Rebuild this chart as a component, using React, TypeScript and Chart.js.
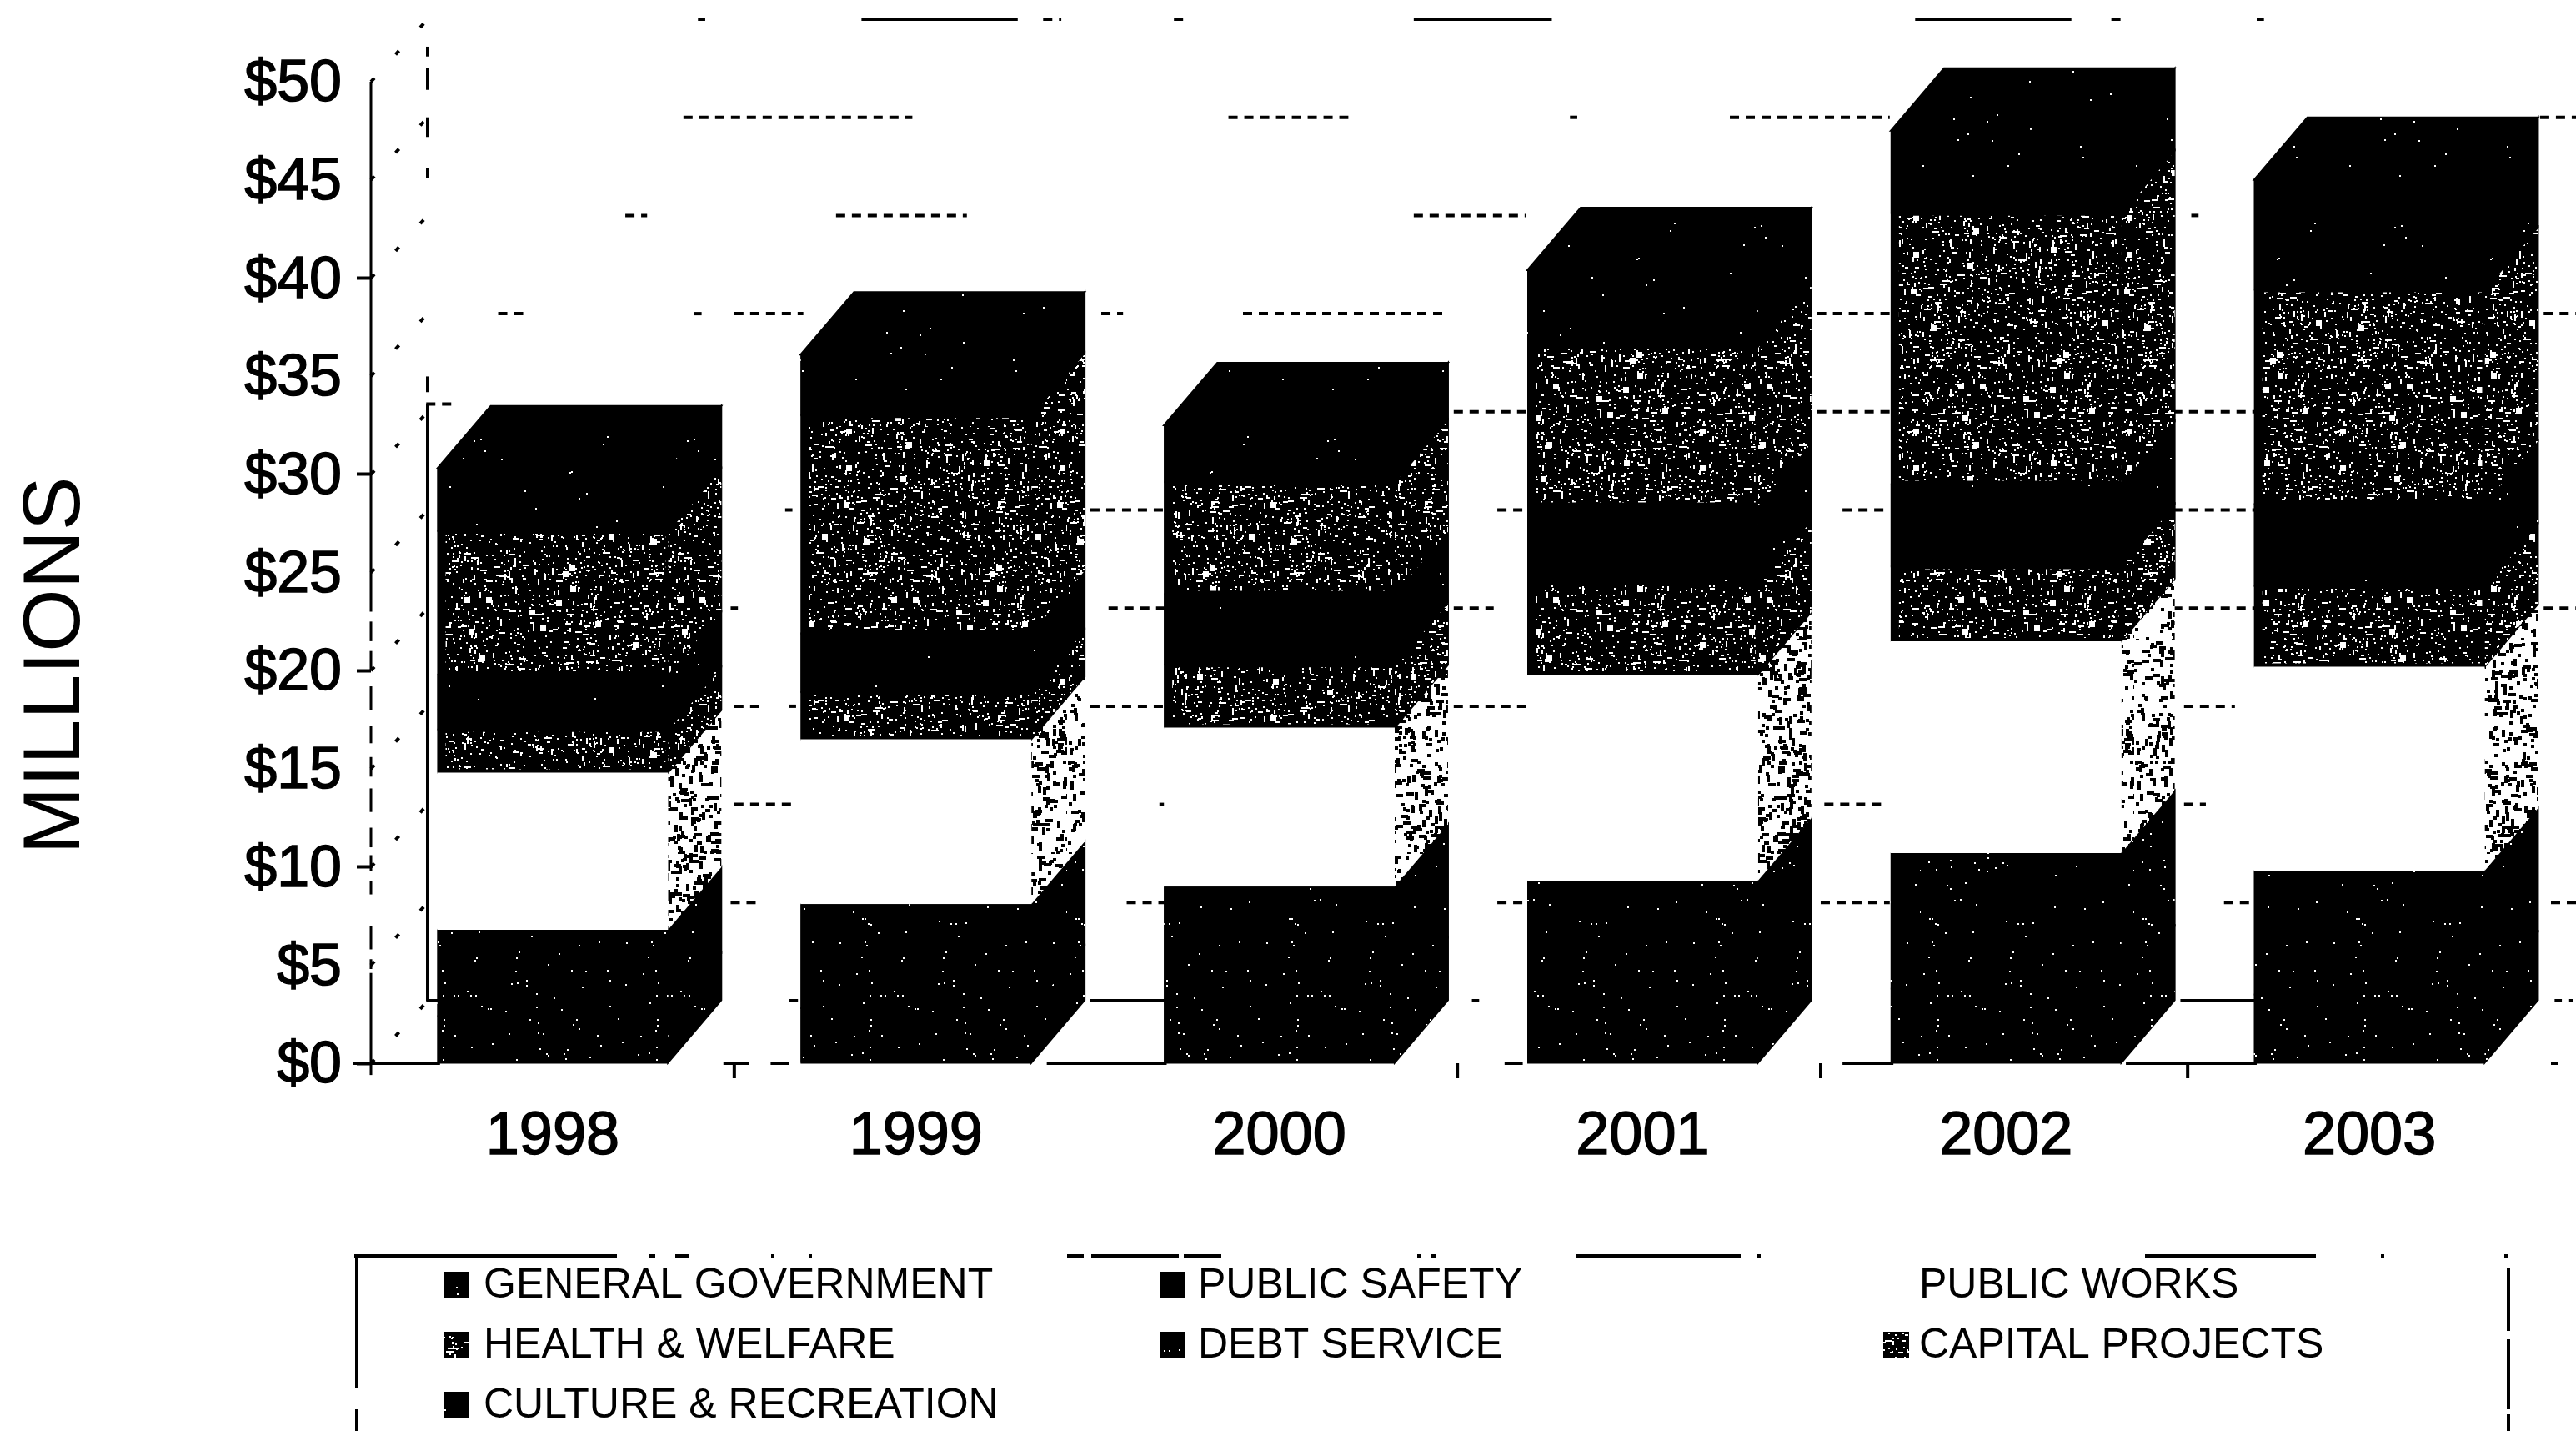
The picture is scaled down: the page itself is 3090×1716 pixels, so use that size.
import React, { useEffect, useRef } from "react";
import Chart from "chart.js/auto";

// ---- Expenditures by function, in millions of dollars ----
const years = ["1998", "1999", "2000", "2001", "2002", "2003"];
const generalGovernment = [2.4, 2.8, 3.2, 3.3, 3.8, 3.5];
const publicSafety = [4.4, 5.3, 5.8, 6.0, 6.9, 6.3];
const publicWorks = [8.0, 8.4, 8.1, 10.5, 10.8, 10.4];
const healthWelfare = [2.2, 2.4, 3.2, 4.7, 3.8, 4.1];
const debtService = [2.8, 3.0, 3.6, 3.9, 4.2, 4.2];
const capitalProjects = [7.3, 11.1, 5.7, 8.1, 13.8, 10.9];
const cultureRecreation = [3.2, 3.1, 2.9, 3.9, 4.2, 5.6];

const seriesNames = [
  "GENERAL GOVERNMENT",
  "PUBLIC SAFETY",
  "PUBLIC WORKS",
  "HEALTH & WELFARE",
  "DEBT SERVICE",
  "CAPITAL PROJECTS",
  "CULTURE & RECREATION",
];
const seriesValues = [
  generalGovernment,
  publicSafety,
  publicWorks,
  healthWelfare,
  debtService,
  capitalProjects,
  cultureRecreation,
];
// Fill used for the front face of each series
const seriesFront = ["sparse", "sparse", "white", "dark", "pure", "dark", "faint"];
// Fill used for the side face of each series
const seriesSide = ["sparse", "sparse", "light", "dark", "faint", "dark", "faint"];

const axisTicks = [0, 5, 10, 15, 20, 25, 30, 35, 40, 45, 50];
const tickMarksShown = [0, 10, 20, 30, 40];
const axisTitle = "MILLIONS";

// Surviving pieces of the back-wall rules: [dollar level, [[from, to] in category units]]
const wallDashes: [number, number[][]][] = [
  [0, [[0.65, 0.69], [2.53, 2.55], [5.51, 5.53], [5.55, 5.56]]],
  [5, [[0.49, 0.57], [1.58, 1.69], [2.6, 2.69], [3.49, 3.68], [4.6, 4.69], [5.5, 5.57]]],
  [10, [[0.5, 0.67], [1.67, 1.69], [3.5, 3.67], [4.49, 4.55]]],
  [15, [[0.5, 0.57], [0.65, 0.67], [1.48, 1.69], [2.48, 2.69], [4.49, 4.63]]],
  [20, [[0.49, 0.51], [1.53, 1.69], [2.48, 2.59], [4.46, 4.69], [5.48, 5.57]]],
  [25, [[0.64, 0.66], [1.48, 1.69], [2.6, 2.67], [3.55, 3.68], [4.46, 4.69]]],
  [30, [[2.48, 2.69], [3.48, 3.68], [4.46, 4.69]]],
  [30.4, [[-0.348, -0.27]]],
  [35, [[-0.15, -0.08], [0.39, 0.41], [0.5, 0.69], [1.51, 1.57], [1.9, 2.45], [3.48, 3.68], [5.48, 5.57]]],
  [40, [[0.2, 0.26], [0.78, 1.14], [2.37, 2.68], [4.51, 4.53]]],
  [45, [[0.36, 0.99], [1.86, 2.19], [2.8, 2.82], [3.24, 3.68], [5.47, 5.57]]],
  [50, [[0.4, 0.42], [1.35, 1.4], [1.71, 1.74], [4.29, 4.32], [4.69, 4.71]]],
];
const wallSolids: [number, number[][]][] = [
  [0, [[-0.348, -0.31], [1.48, 1.69], [4.48, 4.69]]],
  [50, [[0.85, 1.28], [2.37, 2.75], [3.75, 4.18]]],
];
// Pieces of the front floor line and the short notches below it, in category units
const floorPieces = [
  [-0.55, -0.31], [0.47, 0.54], [0.6, 0.65], [1.36, 1.69], [2.62, 2.67],
  [3.55, 3.69], [4.33, 4.69], [5.5, 5.52],
];
const floorNotches = [0.5, 2.49, 3.49, 4.5];
// Pieces of the value axis and of the back-left wall edge, in dollars
const axisPieces = [
  [50, 23], [22.5, 21.5], [21, 20], [19.2, 18], [17.2, 16.3], [15.6, 14.6], [14, 12.8],
  [12, 11], [10.6, 9.8], [9.3, 8.6], [7, 5.8], [5.3, 4.8], [4.6, -0.6],
];
const wallEdgePieces = [[48.6, 48.1], [47.5, 46.4], [45, 44], [42.4, 41.9], [31.8, 31], [30.4, 0]];

const FONT = '"Liberation Sans", Arial, sans-serif';
const DEPTH_X = 64;
const DEPTH_Y = 75;
const WALL_X = 68;

// Deterministic generator, used only for the print-screen grain of the fills
function grain(seed: number) {
  let s = seed >>> 0;
  return () => {
    s = (Math.imul(s, 1664525) + 1013904223) >>> 0;
    return s / 4294967296;
  };
}

function makeTile(paint: (c: CanvasRenderingContext2D, r: () => number, n: number) => void, seed: number) {
  const n = 256;
  const tile = document.createElement("canvas");
  tile.width = n;
  tile.height = n;
  const c = tile.getContext("2d") as CanvasRenderingContext2D;
  paint(c, grain(seed), n);
  return c.createPattern(tile, "repeat") as CanvasPattern;
}

function blackWithSpecks(count: number) {
  return (c: CanvasRenderingContext2D, r: () => number, n: number) => {
    c.fillStyle = "#000";
    c.fillRect(0, 0, n, n);
    c.fillStyle = "#fff";
    for (let i = 0; i < count; i++) {
      c.fillRect(Math.floor(r() * n), Math.floor(r() * n), 2, 2);
    }
  };
}

function darkStipple(c: CanvasRenderingContext2D, r: () => number, n: number) {
  c.fillStyle = "#000";
  c.fillRect(0, 0, n, n);
  c.fillStyle = "#fff";
  for (let i = 0; i < 1250; i++) {
    const x = Math.floor(r() * n);
    const y = Math.floor(r() * n);
    const k = r();
    if (k < 0.78) c.fillRect(x, y, 2, 2);
    else if (k < 0.88) c.fillRect(x, y, 4 + Math.floor(r() * 6), 2);
    else if (k < 0.985) c.fillRect(x, y, 2, 4 + Math.floor(r() * 6));
    else c.fillRect(x, y, 7, 7);
  }
}

function lightStipple(c: CanvasRenderingContext2D, r: () => number, n: number) {
  c.fillStyle = "#fff";
  c.fillRect(0, 0, n, n);
  c.fillStyle = "#000";
  for (let i = 0; i < 1000; i++) {
    const x = Math.floor(r() * n);
    const y = Math.floor(r() * n);
    const k = r();
    if (k < 0.6) c.fillRect(x, y, 4, 4);
    else if (k < 0.8) c.fillRect(x, y, 9, 4);
    else c.fillRect(x, y, 4, 9);
  }
}

function makeFills(): Record<string, CanvasPattern | string> {
  return {
    white: "#ffffff",
    pure: makeTile(blackWithSpecks(6), 11),
    faint: makeTile(blackWithSpecks(30), 17),
    sparse: makeTile(blackWithSpecks(110), 23),
    dark: makeTile(darkStipple, 37),
    light: makeTile(lightStipple, 51),
  };
}

// Draws the parts of the false-perspective box the bar element has no notion of
function makeDepthPlugin(fills: Record<string, CanvasPattern | string>) {
  return {
    id: "boxDepth",
    beforeDatasetsDraw(chart: any) {
      const { ctx, scales } = chart;
      const xs = scales.x;
      const ys = scales.y;
      const axisX = xs.left;
      ctx.save();

      // Dotted diagonals over the side wall
      ctx.strokeStyle = "#000";
      ctx.lineWidth = 4;
      ctx.setLineDash([6, 38]);
      axisTicks.forEach((t) => {
        const y = ys.getPixelForValue(t);
        ctx.beginPath();
        ctx.moveTo(axisX, y);
        ctx.lineTo(axisX + WALL_X, y - DEPTH_Y);
        ctx.stroke();
      });
      ctx.setLineDash([]);

      // Back-left edge of the wall
      wallEdgePieces.forEach(([a, b]) => {
        ctx.beginPath();
        ctx.moveTo(axisX + WALL_X, ys.getPixelForValue(a) - DEPTH_Y);
        ctx.lineTo(axisX + WALL_X, ys.getPixelForValue(b) - DEPTH_Y);
        ctx.stroke();
      });

      // Back-wall rules
      const rule = (level: number, pieces: number[][], dash: number[]) => {
        const y = ys.getPixelForValue(level) - DEPTH_Y;
        ctx.setLineDash(dash);
        pieces.forEach(([a, b]) => {
          ctx.beginPath();
          ctx.moveTo(xs.getPixelForValue(a), y);
          ctx.lineTo(xs.getPixelForValue(b), y);
          ctx.stroke();
        });
      };
      wallDashes.forEach(([level, pieces]) => rule(level, pieces, [11, 8]));
      wallSolids.forEach(([level, pieces]) => rule(level, pieces, []));
      ctx.setLineDash([]);

      // Floor and value axis
      const floor = ys.getPixelForValue(0);
      floorPieces.forEach(([a, b]) => {
        ctx.beginPath();
        ctx.moveTo(xs.getPixelForValue(a), floor);
        ctx.lineTo(xs.getPixelForValue(b), floor);
        ctx.stroke();
      });
      floorNotches.forEach((c) => {
        ctx.beginPath();
        ctx.moveTo(xs.getPixelForValue(c), floor);
        ctx.lineTo(xs.getPixelForValue(c), floor + 18);
        ctx.stroke();
      });
      ctx.lineWidth = 3;
      axisPieces.forEach(([a, b]) => {
        ctx.beginPath();
        ctx.moveTo(axisX, ys.getPixelForValue(a));
        ctx.lineTo(axisX, ys.getPixelForValue(b));
        ctx.stroke();
      });

      // Side faces and the lid of each stack; black goes down first so adjoining fills leave no seam
      const face = (pts: number[][], fill: CanvasPattern | string, under: boolean) => {
        const trace = () => {
          ctx.beginPath();
          pts.forEach(([px, py], k) => (k ? ctx.lineTo(px, py) : ctx.moveTo(px, py)));
          ctx.closePath();
        };
        if (under) {
          ctx.fillStyle = "#000";
          ctx.strokeStyle = "#000";
          ctx.lineWidth = 2;
          trace();
          ctx.fill();
          ctx.stroke();
        }
        ctx.fillStyle = fill;
        trace();
        ctx.fill();
      };
      seriesValues.forEach((_, i) => {
        const meta = chart.getDatasetMeta(i);
        meta.data.forEach((el: any) => {
          const { x, y, base, width } = el.getProps(["x", "y", "base", "width"], true);
          const left = x - width / 2;
          const right = x + width / 2;
          const solid = seriesSide[i] !== "light";
          face(
            [[right, y], [right + DEPTH_X, y - DEPTH_Y], [right + DEPTH_X, base - DEPTH_Y], [right, base]],
            fills[seriesSide[i]],
            solid
          );
          if (i === seriesValues.length - 1) {
            face(
              [[left, y], [left + DEPTH_X, y - DEPTH_Y], [right + DEPTH_X, y - DEPTH_Y], [right, y]],
              fills[seriesSide[i]],
              true
            );
          }
          if (seriesFront[i] !== "white") {
            ctx.fillStyle = "#000";
            ctx.fillRect(left, y - 1, width, base - y + 2);
          }
        });
      });
      ctx.restore();
    },
  };
}

// Rotated axis title and the three-column key below the plot
function makeKeyPlugin(fills: Record<string, CanvasPattern | string>) {
  const columns = [
    { swatch: 532, text: 580 },
    { swatch: 1391, text: 1437 },
    { swatch: 2259, text: 2302 },
  ];
  const rows = [1540, 1612, 1684];
  const topRule = [
    [425, 740], [778, 786], [810, 826], [925, 929], [970, 974], [1280, 1300], [1309, 1414],
    [1420, 1465], [1700, 1704], [1716, 1722], [1891, 2088], [2108, 2112], [2573, 2778],
    [2856, 2860], [3004, 3008],
  ];
  const leftRule = [[1505, 1664], [1690, 1716]];
  const rightRule = [[1520, 1596], [1606, 1690], [1696, 1716]];
  return {
    id: "chartKey",
    afterDraw(chart: any) {
      const { ctx } = chart;
      ctx.save();
      ctx.fillStyle = "#000";

      ctx.save();
      ctx.translate(68, 798);
      ctx.rotate(-Math.PI / 2);
      ctx.font = `97px ${FONT}`;
      ctx.textAlign = "center";
      ctx.textBaseline = "middle";
      ctx.fillText(axisTitle, 0, 0);
      ctx.restore();

      ctx.strokeStyle = "#000";
      ctx.lineWidth = 4;
      topRule.forEach(([a, b]) => {
        ctx.beginPath();
        ctx.moveTo(a, 1506);
        ctx.lineTo(b, 1506);
        ctx.stroke();
      });
      leftRule.forEach(([a, b]) => {
        ctx.beginPath();
        ctx.moveTo(428, a);
        ctx.lineTo(428, b);
        ctx.stroke();
      });
      rightRule.forEach(([a, b]) => {
        ctx.beginPath();
        ctx.moveTo(3009, a);
        ctx.lineTo(3009, b);
        ctx.stroke();
      });

      ctx.font = `50px ${FONT}`;
      ctx.textAlign = "left";
      ctx.textBaseline = "middle";
      seriesNames.forEach((name, i) => {
        const col = columns[i % 3];
        const y = rows[Math.floor(i / 3)];
        const swatch = seriesFront[i] === "pure" || seriesFront[i] === "faint" ? "sparse" : seriesFront[i];
        ctx.fillStyle = fills[swatch];
        ctx.fillRect(col.swatch, y - 15, 31, 31);
        ctx.fillStyle = "#000";
        ctx.fillText(name, col.text, y + 2);
      });
      ctx.restore();
    },
  };
}

export default function App() {
  const canvasRef = useRef<HTMLCanvasElement>(null);

  useEffect(() => {
    const canvas = canvasRef.current as HTMLCanvasElement;
    const fills = makeFills();
    const chart = new Chart(canvas, {
      type: "bar",
      data: {
        labels: years,
        datasets: seriesNames.map((name, i) => {
          const stippled = seriesFront[i] === "dark";
          return {
            label: name,
            data: seriesValues[i],
            backgroundColor: fills[seriesFront[i]],
            borderColor: "#000000",
            borderWidth: stippled ? { left: 10, right: 3, top: 3, bottom: 4 } : 0,
            borderSkipped: false,
            barPercentage: 0.635,
            categoryPercentage: 1,
            clip: false,
          };
        }),
      },
      options: {
        responsive: false,
        animation: false,
        layout: { padding: { top: 98, right: 30, left: 0, bottom: 0 } },
        plugins: { legend: { display: false }, tooltip: { enabled: false } },
        scales: {
          x: {
            stacked: true,
            afterFit: (s: any) => {
              s.height = 441;
            },
            grid: { display: false },
            border: { display: false },
            ticks: {
              color: "#000",
              padding: 38,
              maxRotation: 0,
              textStrokeColor: "#000",
              textStrokeWidth: 1.5,
              font: { family: FONT, size: 72 },
            },
          },
          y: {
            stacked: true,
            min: 0,
            max: 50,
            afterFit: (s: any) => {
              s.width = 445;
            },
            afterBuildTicks: (s: any) => {
              s.ticks = axisTicks.map((value) => ({ value }));
            },
            border: { display: false },
            grid: {
              drawOnChartArea: false,
              drawTicks: true,
              tickLength: 17,
              tickWidth: 4,
              tickColor: (c: any) =>
                tickMarksShown.includes(c.tick?.value) ? "#000000" : "rgba(0,0,0,0)",
            },
            ticks: {
              color: "#000",
              padding: 18,
              labelOffset: 4,
              textStrokeColor: "#000",
              textStrokeWidth: 1.5,
              font: { family: FONT, size: 70 },
              callback: (v: any) => `$${v}`,
            },
          },
        },
      },
      plugins: [makeDepthPlugin(fills), makeKeyPlugin(fills)],
    } as any);
    return () => chart.destroy();
  }, []);

  return (
    <div style={{ position: "absolute", left: 0, top: 0, width: 3090, height: 1716, background: "#fff" }}>
      <canvas ref={canvasRef} width={3090} height={1716} style={{ display: "block" }} />
    </div>
  );
}
